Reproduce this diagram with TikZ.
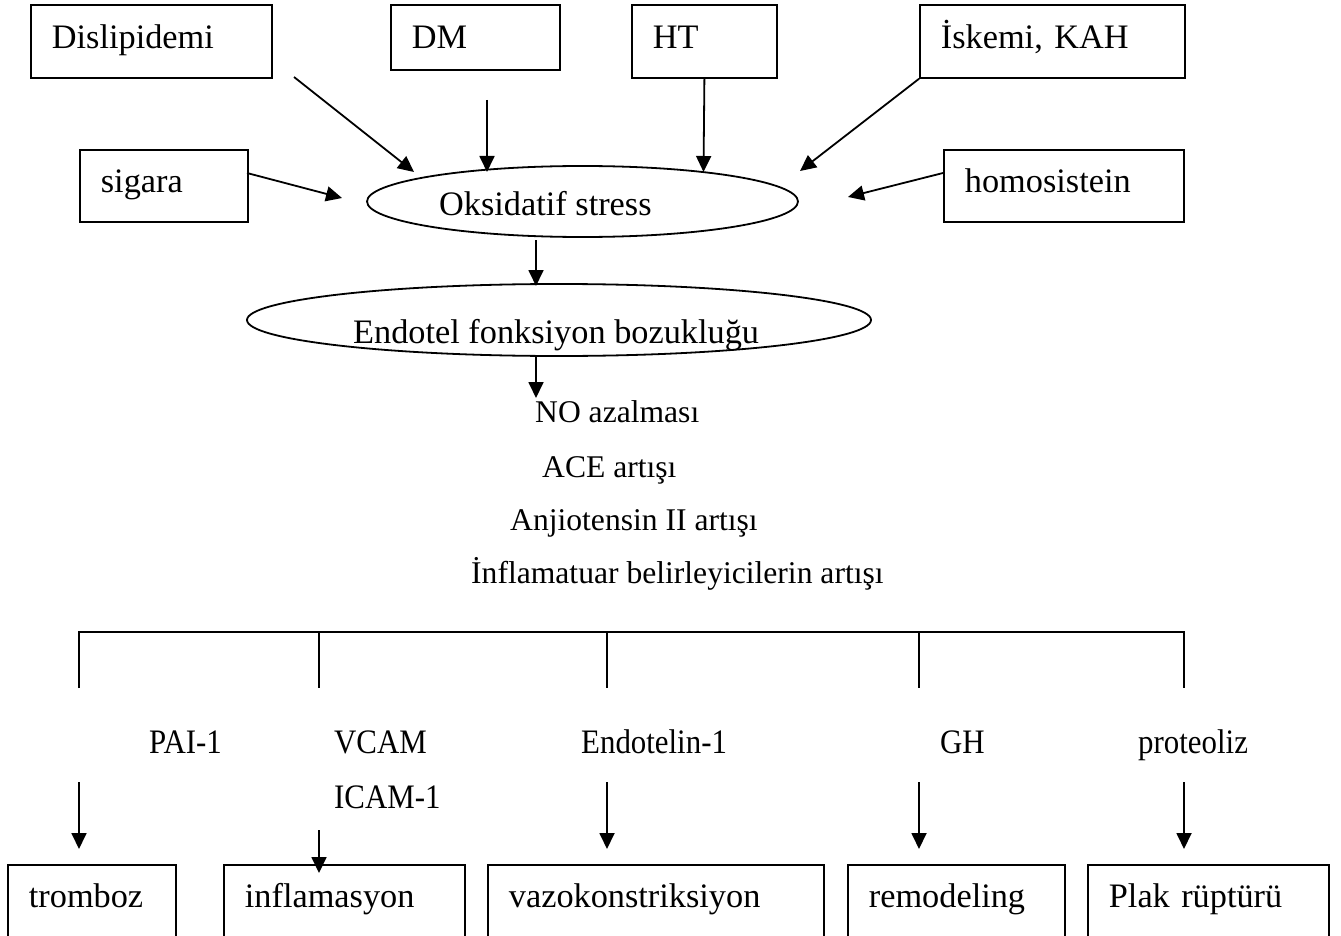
\documentclass[tikz,border=0pt]{standalone}
\usepackage{fontspec}
\setmainfont{Liberation Serif}
\usetikzlibrary{arrows.meta,shapes.geometric}
\newcommand{\bigfnt}{\fontsize{34.3}{40}\selectfont}
\newcommand{\midfnt}{\fontsize{31.6}{38}\selectfont}
\newcommand{\cnd}[1]{\scalebox{0.9}[1]{#1}}
\begin{document}
\begin{tikzpicture}[x=1pt,y=-1pt,
  lw/.style={line width=1.8pt},
  box/.style={draw, lw, anchor=north west, inner xsep=21pt, inner ysep=0pt, align=left, font=\bigfnt},
  oval/.style={draw, lw, ellipse, inner sep=0pt},
  lbl/.style={anchor=base west, inner sep=0pt},
  arr/.style={lw, -{Triangle[length=16pt,width=15pt]}},
  brk/.style={lw}
]
\useasboundingbox (0,0) rectangle (1341,936);
\clip (0,0) rectangle (1341,936);
\fill[white] (0,0) rectangle (1341,936);

% top boxes
\node[box, text width=199pt, text height=44pt, text depth=29pt] (dis) at (30,4) {Dislipidemi};
\node[box, text width=127pt, text height=44pt, text depth=21pt] (dm) at (390,4) {DM};
\node[box, text width=103pt, text height=44pt, text depth=29pt] (ht) at (631,4) {HT};
\node[box, text width=223pt, text height=44pt, text depth=29pt] (isk) at (919,4) {İskemi, KAH};
\node[box, text width=126pt, text height=43pt, text depth=29pt] (sig) at (79,149) {sigara};
\node[box, text width=198pt, text height=43pt, text depth=29pt] (hom) at (943,149) {homosistein};

% ellipses
\node[oval, minimum width=431pt, minimum height=71pt] (oks) at (582.5,201.5) {};
\node[lbl, font=\bigfnt] (okst) at (439,215) {Oksidatif stress};
\node[oval, minimum width=624pt, minimum height=72pt] (endo) at (559,320) {};
\node[lbl, font=\bigfnt] (endot) at (353,343) {Endotel fonksiyon bozukluğu};

% connector end points
\coordinate (d1) at (294,77);   \coordinate (d2) at (414,172);
\coordinate (m1) at (487,100);  \coordinate (m2) at (487,172);
\coordinate (h2) at (703.5,172);
\coordinate (i2) at (800,171);
\coordinate (s1) at (247,173);  \coordinate (s2) at (342,198);
\coordinate (o1) at (943,173);  \coordinate (o2) at (848,197);
\coordinate (e1) at (536,240);  \coordinate (e2) at (536,286);
\coordinate (n1) at (536,357);  \coordinate (n2) at (536,398);

\draw[arr] (d1) -- (d2);
\draw[arr] (m1) -- (m2);
\draw[arr] (ht.south) -- (h2);
\draw[arr] (isk.south west) -- (i2);
\draw[arr] (s1) -- (s2);
\draw[arr] (o1) -- (o2);
\draw[arr] (e1) -- (e2);
\draw[arr] (n1) -- (n2);

% middle labels
\node[lbl, font=\midfnt] (no) at (535,422) {NO azalması};
\node[lbl, font=\midfnt] (ace) at (542,477) {ACE artışı};
\node[lbl, font=\midfnt] (anj) at (510,530) {Anjiotensin II artışı};
\node[lbl, font=\midfnt] (inf) at (471,583) {İnflamatuar belirleyicilerin artışı};

% bracket
\coordinate (t1) at (79,632);  \coordinate (b1) at (79,688);
\coordinate (t2) at (319,632); \coordinate (b2) at (319,688);
\coordinate (t3) at (607,632); \coordinate (b3) at (607,688);
\coordinate (t4) at (919,632); \coordinate (b4) at (919,688);
\coordinate (t5) at (1184,632);\coordinate (b5) at (1184,688);
\draw[brk] (b1) -- (t1) -- (t5) -- (b5);
\draw[brk] (t2) -- (b2);
\draw[brk] (t3) -- (b3);
\draw[brk] (t4) -- (b4);

% lower labels
\node[lbl, font=\bigfnt] (pai) at (149,753) {\cnd{PAI-1}};
\node[lbl, font=\bigfnt] (vcam) at (334,753) {\cnd{VCAM}};
\node[lbl, font=\bigfnt] (icam) at (334,808) {\cnd{ICAM-1}};
\node[lbl, font=\bigfnt] (et1) at (581,753) {\cnd{Endotelin-1}};
\node[lbl, font=\bigfnt] (gh) at (940,753) {\cnd{GH}};
\node[lbl, font=\bigfnt] (prot) at (1138,753) {\cnd{proteoliz}};

% bottom boxes
\node[box, text width=126pt, text height=43pt, text depth=30pt] (trm) at (7,864) {tromboz};
\node[box, text width=199pt, text height=43pt, text depth=30pt] (infl) at (223,864) {inflamasyon};
\node[box, text width=294pt, text height=43pt, text depth=30pt] (vazo) at (487,864) {vazokonstriksiyon};
\node[box, text width=175pt, text height=43pt, text depth=30pt] (rem) at (847,864) {remodeling};
\node[box, text width=199pt, text height=43pt, text depth=30pt] (plak) at (1087,864) {Plak rüptürü};

% lower arrows
\coordinate (a1) at (79,782);   \coordinate (z1) at (79,849);
\coordinate (a2) at (319,830);  \coordinate (z2) at (319,873);
\coordinate (a3) at (607,782);  \coordinate (z3) at (607,849);
\coordinate (a4) at (919,782);  \coordinate (z4) at (919,849);
\coordinate (a5) at (1184,782); \coordinate (z5) at (1184,849);
\draw[arr] (a1) -- (z1);
\draw[arr] (a2) -- (z2);
\draw[arr] (a3) -- (z3);
\draw[arr] (a4) -- (z4);
\draw[arr] (a5) -- (z5);
\end{tikzpicture}
\end{document}
